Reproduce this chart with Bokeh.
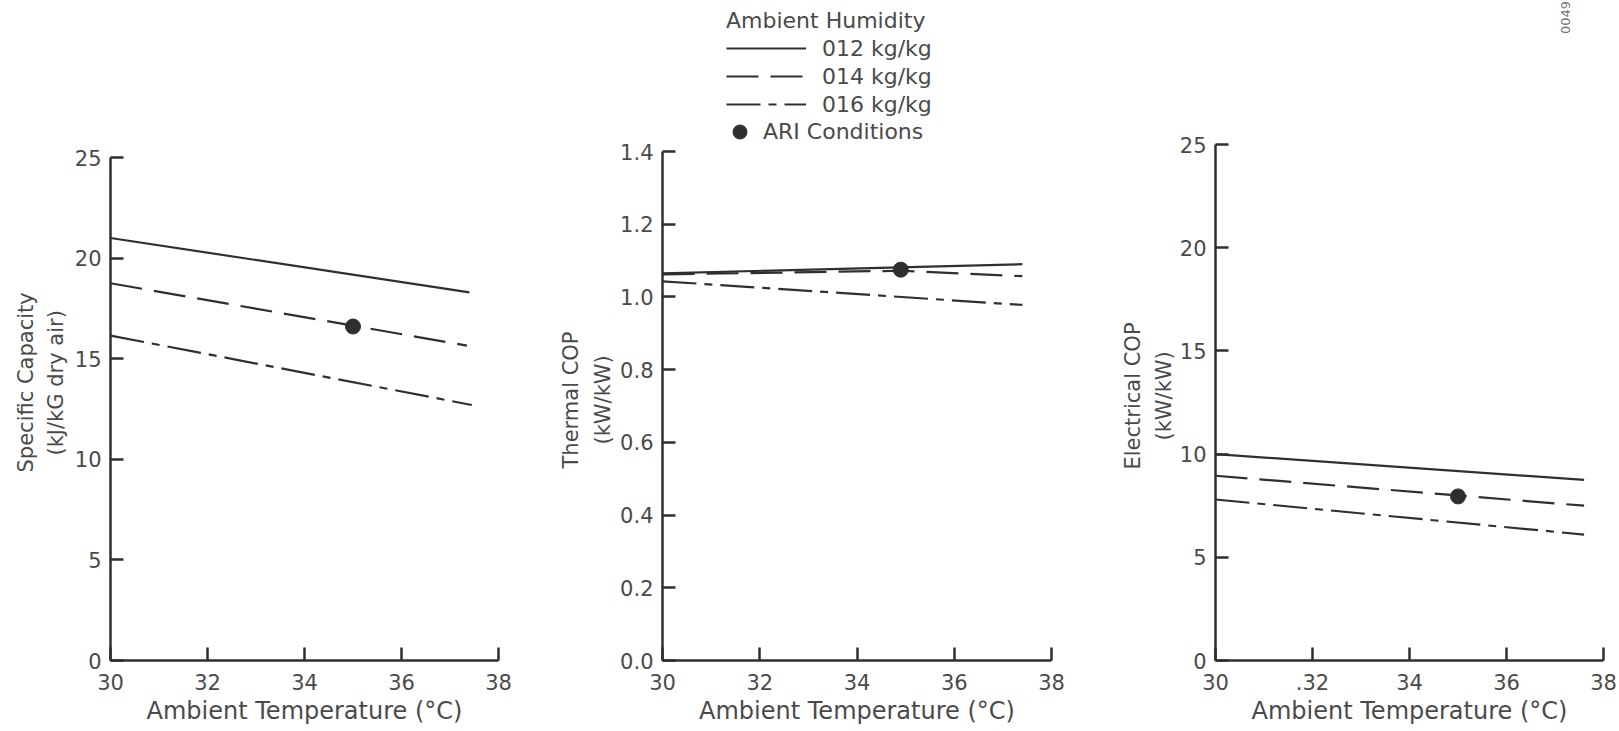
import math
from bokeh.plotting import figure
from bokeh.layouts import row
from bokeh.models import (Range1d, FixedTicker, Legend, LegendItem, Label, Title,
                          PrintfTickFormatter)
from bokeh.embed import file_html
from bokeh.resources import INLINE

# ---------------- data ----------------
temp_ticks = [30, 32, 34, 36, 38]
humidity_labels = ["012 kg/kg", "014 kg/kg", "016 kg/kg"]
ari_label = "ARI Conditions"

# Panel 1: Specific capacity (kJ/kG dry air)
cap_x_012 = [30.0, 37.4]
cap_y_012 = [21.0, 18.3]
cap_x_014 = [30.0, 37.35]
cap_y_014 = [18.75, 15.65]
cap_x_016 = [30.0, 37.45]
cap_y_016 = [16.15, 12.7]
cap_ari_x = [35.0]
cap_ari_y = [16.6]
cap_yticks = [0, 5, 10, 15, 20, 25]

# Panel 2: Thermal COP (kW/kW)
tcop_x_012 = [30.0, 37.4]
tcop_y_012 = [1.065, 1.09]
tcop_x_014 = [30.0, 34.9, 37.4]
tcop_y_014 = [1.062, 1.072, 1.057]
tcop_x_016 = [30.0, 37.4]
tcop_y_016 = [1.043, 0.978]
tcop_ari_x = [34.9]
tcop_ari_y = [1.075]
tcop_yticks = [0.0, 0.2, 0.4, 0.6, 0.8, 1.0, 1.2, 1.4]

# Panel 3: Electrical COP (kW/kW)
ecop_x_012 = [30.0, 37.6]
ecop_y_012 = [10.0, 8.75]
ecop_x_014 = [30.0, 37.6]
ecop_y_014 = [8.95, 7.5]
ecop_x_016 = [30.0, 37.6]
ecop_y_016 = [7.8, 6.1]
ecop_ari_x = [35.0]
ecop_ari_y = [7.95]
ecop_yticks = [0, 5, 10, 15, 20, 25]

# ---------------- style / layout ----------------
LINE = "#2f2f2f"
TEXT = "#4a4a4a"
FONT = "DejaVu Sans"
DASHES = ["solid", "32 12", "34 8 8 8"]
H = 731
BOTTOM = 660          # page y of every x axis (frames are aligned by the row)
TOP = 0               # frames reach the top; the y axes stop at their last tick


def make_panel(width, left, right, axis_end, axis_end_px, yticks, yfmt=None, overrides=None):
    y_top = axis_end * (BOTTOM - TOP) / (BOTTOM - axis_end_px)
    p = figure(width=width, height=H, x_range=Range1d(30, 38), y_range=Range1d(0, y_top),
               output_backend="svg", toolbar_location=None,
               min_border_left=left, min_border_right=right,
               min_border_top=TOP, min_border_bottom=H - BOTTOM)
    p.outline_line_color = None
    p.grid.visible = False
    p.background_fill_color = "white"
    p.border_fill_color = "white"
    for ax in (p.xaxis[0], p.yaxis[0]):
        ax.axis_line_color = LINE
        ax.axis_line_width = 2.5
        ax.major_tick_line_color = LINE
        ax.major_tick_line_width = 2.5
        ax.major_tick_in = 13
        ax.major_tick_out = 0
        ax.minor_tick_line_color = None
        ax.major_label_text_font = FONT
        ax.major_label_text_font_size = "21px"
        ax.major_label_text_color = TEXT
    p.yaxis.bounds = (0, axis_end)
    p.xaxis.ticker = FixedTicker(ticks=temp_ticks)
    p.yaxis.ticker = FixedTicker(ticks=yticks)
    if yfmt:
        p.yaxis.formatter = PrintfTickFormatter(format=yfmt)
    if overrides:
        p.xaxis.major_label_overrides = overrides
    p.xaxis.major_label_standoff = 13
    p.yaxis.major_label_standoff = 9
    p.xaxis.axis_label = "Ambient Temperature (°C)"
    p.xaxis.axis_label_text_font = FONT
    p.xaxis.axis_label_text_font_size = "24px"
    p.xaxis.axis_label_text_font_style = "normal"
    p.xaxis.axis_label_text_color = TEXT
    p.xaxis.axis_label_standoff = 4
    return p, y_top


def draw(p, xs, ys, ax, ay):
    rs = []
    for x, y, d in zip(xs, ys, DASHES):
        rs.append(p.line(x, y, line_color=LINE, line_width=2.2, line_dash=d))
    dot = p.scatter(ax, ay, size=15, fill_color=LINE, line_color=LINE)
    return rs, dot


def to_y(y_top, py):
    return (BOTTOM - py) / (BOTTOM - TOP) * y_top


def y_titles(p, lines, offsets, standoffs):
    # two rotated title lines in the left border; the first is nearest the axis
    for txt, off, so in zip(lines, offsets, standoffs):
        p.add_layout(Title(text=txt, align="left", vertical_align="bottom", offset=off,
                           standoff=so, text_font=FONT, text_font_size="21px",
                           text_font_style="normal", text_color=TEXT), "left")


p1, yt1 = make_panel(540, 110, 42, 25, 157, cap_yticks)
draw(p1, [cap_x_012, cap_x_014, cap_x_016], [cap_y_012, cap_y_014, cap_y_016], cap_ari_x, cap_ari_y)
y_titles(p1, ["(kJ/kG dry air)", "Specific Capacity"], [205, 188], [8, 0])

p2, yt2 = make_panel(560, 122, 49, 1.4, 151, tcop_yticks, yfmt="%.1f")
lines2, dot2 = draw(p2, [tcop_x_012, tcop_x_014, tcop_x_016], [tcop_y_012, tcop_y_014, tcop_y_016],
                    tcop_ari_x, tcop_ari_y)
y_titles(p2, ["(kW/kW)", "Thermal COP"], [216, 192], [6, 6])

p3, yt3 = make_panel(519, 115, 16, 25, 144, ecop_yticks, overrides={32: ".32"})
draw(p3, [ecop_x_012, ecop_x_014, ecop_x_016], [ecop_y_012, ecop_y_014, ecop_y_016], ecop_ari_x, ecop_ari_y)
y_titles(p3, ["(kW/kW)", "Electrical COP"], [220, 191], [2, 8])

# small rotated code at the top right
p3.add_layout(Label(x=30 + (1565 - 1215) / 388 * 8, y=to_y(yt3, 17), text="0049",
                    angle=math.pi / 2, text_align="center", text_baseline="middle",
                    text_font=FONT, text_font_size="13px", text_color="#777777"))

# legend above the middle panel (inside its tall frame)
L2 = 662
common = dict(border_line_color=None, background_fill_alpha=0, padding=0, margin=0,
              label_text_font=FONT, label_text_font_size="22px", label_text_color=TEXT)
leg1 = Legend(items=[LegendItem(label=lab, renderers=[r]) for lab, r in zip(humidity_labels, lines2)],
              title="Ambient Humidity", title_text_font=FONT, title_text_font_size="22px",
              title_text_color=TEXT, title_text_font_style="normal", title_standoff=2,
              glyph_width=80, glyph_height=26, label_height=26, label_standoff=16, spacing=2,
              location=(726 - L2, BOTTOM - 117), **common)
leg2 = Legend(items=[LegendItem(label=ari_label, renderers=[dot2])],
              glyph_width=35, glyph_height=35, label_height=35, label_standoff=6, spacing=0,
              location=(739 - 17 - L2, BOTTOM - 149), **common)
p2.add_layout(leg1, "center")
p2.add_layout(leg2, "center")

layout = row(p1, p2, p3)
open("out.html", "w").write(file_html(layout, INLINE))
